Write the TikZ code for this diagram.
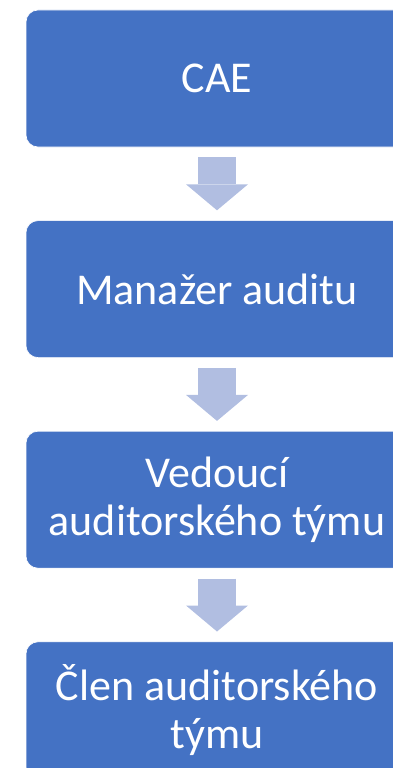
\documentclass[tikz,border=0pt]{standalone}
\usepackage{fontspec}
\setmainfont{Carlito}
\usetikzlibrary{positioning,arrows.meta}

\definecolor{boxblue}{RGB}{68,114,196}
\definecolor{arrowblue}{RGB}{177,190,225}

\tikzset{
    rolebox/.style={rectangle, rounded corners=12pt, fill=boxblue, draw=white, line width=0.6pt,
        minimum width=382pt, minimum height=137pt, text=white, align=center,
        font=\fontsize{44}{48}\selectfont},
    downarrow/.style={draw=arrowblue, line width=38pt, shorten <=10pt, shorten >=10pt,
        -{Triangle[length=26pt, width=62pt, line width=0pt]}}
}

\begin{document}
\begin{tikzpicture}[x=1pt, y=1pt]

        \useasboundingbox (0,0) rectangle (393,-768);
        \clip (0,0) rectangle (393,-768);

        \node[rolebox] (cae) at (217,-78.5) {CAE};
        \node[rolebox, below=73pt of cae] (manazer) {Manažer auditu};
        \node[rolebox, below=73pt of manazer] (vedouci) {Vedoucí\\auditorského týmu};
        \node[rolebox, below=73pt of vedouci] (clen) {Člen auditorského\\týmu};

        \draw[downarrow] (cae) -- (manazer);
        \draw[downarrow] (manazer) -- (vedouci);
        \draw[downarrow] (vedouci) -- (clen);
    \end{tikzpicture}
\end{document}
